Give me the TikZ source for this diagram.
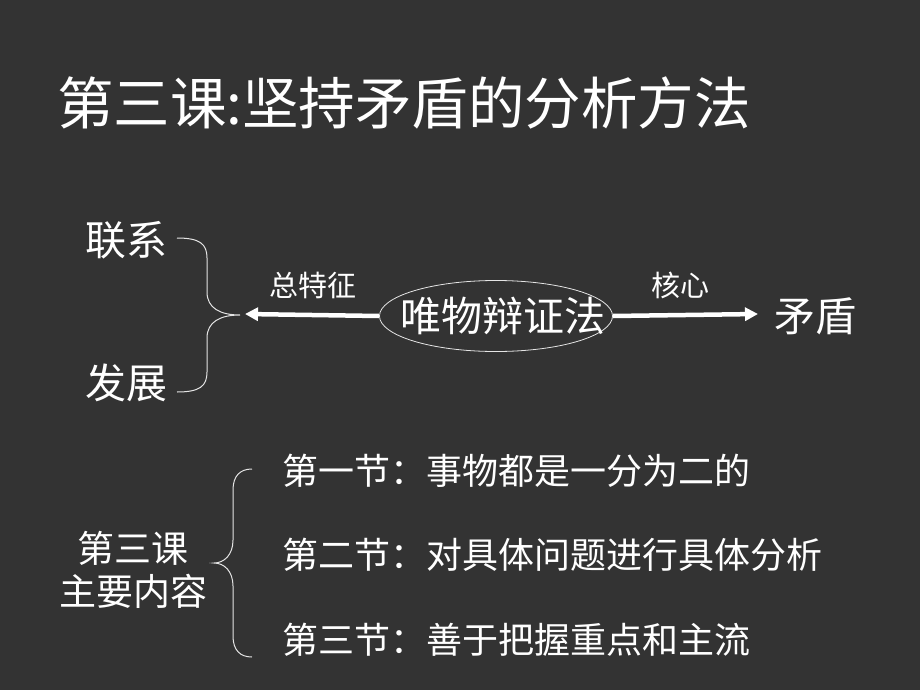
\documentclass[tikz,border=0pt]{standalone}
\usepackage{fontspec}
\setmainfont{Noto Sans CJK SC}
\newfontfamily\cjk{Noto Sans CJK SC}
\usetikzlibrary{arrows.meta,shapes.geometric}
\definecolor{bg}{HTML}{333333}
\tikzset{
  txt/.style={text=white, inner sep=0pt, font=\cjk},
  brace/.style={draw=white!90!black, line width=1pt},
  bigarrow/.style={draw=white, line width=4.5pt, -{Triangle[length=13pt,width=13pt]}}
}
\begin{document}
\begin{tikzpicture}[x=1pt,y=-1pt]
\fill[bg] (0,0) rectangle (920,690);
\useasboundingbox (0,0) rectangle (920,690);
% title
\node[txt, anchor=west, font=\cjk\fontsize{56.5}{56.5}\selectfont] (title) at (57,103) {第三课:坚持矛盾的分析方法};
% upper diagram
\node[txt, font=\cjk\fontsize{41}{41}\selectfont] (lianxi) at (126,240) {联系};
\node[txt, font=\cjk\fontsize{41}{41}\selectfont] (fazhan) at (126,383) {发展};
\coordinate (b1tip) at (240,315);
\draw[brace] (177,238) .. controls (200,238) and (207,244) .. (207,258) -- (207,292) .. controls (207,308) and (220,315) .. (b1tip)
  .. controls (220,315) and (207,322) .. (207,338) -- (207,372) .. controls (207,386) and (200,392) .. (177,392);
\node[draw=white!90!black, line width=0.8pt, ellipse, minimum width=233pt, minimum height=71pt, inner sep=0pt] (ell) at (496,316) {};
\node[txt, font=\cjk\fontsize{41}{41}\selectfont] (wuwu) at (503,316) {唯物辩证法};
\node[txt, font=\cjk\fontsize{41}{41}\selectfont] (maodun) at (815,316) {矛盾};
\coordinate (larrowtip) at (245,314);
\coordinate (rarrowtip) at (758,314);
\draw[bigarrow] (ell.west) -- (larrowtip);
\draw[bigarrow] (ell.east) -- (rarrowtip);
\node[txt, font=\cjk\fontsize{29}{29}\selectfont] (zong) at (313,285) {总特征};
\node[txt, font=\cjk\fontsize{29}{29}\selectfont] (hexin) at (680,285) {核心};
% lower diagram
\node[txt, font=\cjk\fontsize{37}{37}\selectfont] (dsk) at (133,548) {第三课};
\node[txt, font=\cjk\fontsize{37}{37}\selectfont] (zynr) at (133,591) {主要内容};
\coordinate (b2tip) at (214,563);
\draw[brace] (252,469) .. controls (240,469) and (233,476) .. (233,490) -- (233,540) .. controls (233,555) and (224,563) .. (b2tip)
  .. controls (224,563) and (233,571) .. (233,586) -- (233,636) .. controls (233,650) and (240,657) .. (252,657);
\node[txt, anchor=west, font=\cjk\fontsize{36}{36}\selectfont] (s1) at (282,471) {第一节：事物都是一分为二的};
\node[txt, anchor=west, font=\cjk\fontsize{36}{36}\selectfont] (s2) at (282,555) {第二节：对具体问题进行具体分析};
\node[txt, anchor=west, font=\cjk\fontsize{36}{36}\selectfont] (s3) at (282,640) {第三节：善于把握重点和主流};
\end{tikzpicture}
\end{document}
